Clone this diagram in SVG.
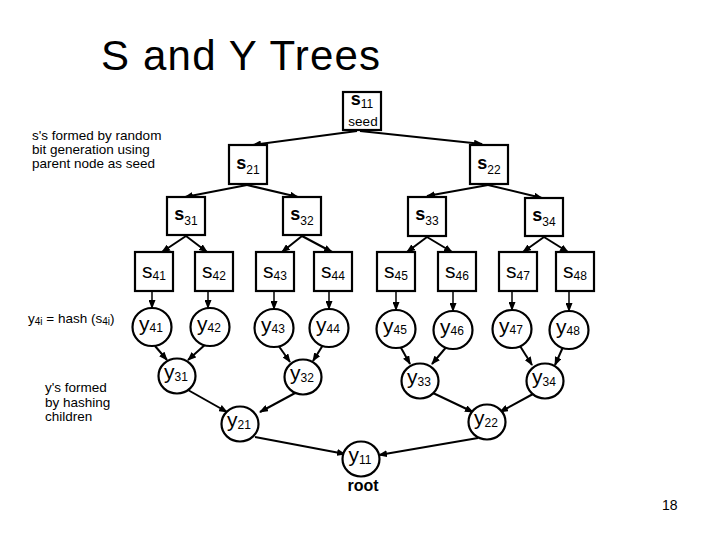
<svg xmlns="http://www.w3.org/2000/svg" width="720" height="540" viewBox="0 0 720 540">
<defs>
<marker id="ah" markerWidth="9" markerHeight="7" refX="8" refY="3.5" orient="auto" markerUnits="userSpaceOnUse">
<path d="M0,0 L9,3.5 L0,7 z" fill="#000"/>
</marker>
<style>
text{font-family:"Liberation Sans",Arial,sans-serif;fill:#000}
.box{fill:#fff;stroke:#000;stroke-width:2.2}
.circ{fill:#fff;stroke:#000;stroke-width:2.2}
.sb{font-weight:bold;font-size:18px}
.s4{font-size:21px}
.yl{font-size:21px}
.sub{font-size:12px}
.note{font-size:13.5px}
.con line{stroke:#000;stroke-width:2;marker-end:url(#ah)}
.con line.v{stroke-width:1.5}
</style>
</defs>
<rect width="720" height="540" fill="#fff"/>
<text x="101" y="70" font-size="42" textLength="279" lengthAdjust="spacing">S and Y Trees</text>
<g id="notes">
<text class="note" x="32" y="140">s's formed by random</text>
<text class="note" x="32" y="154">bit generation using</text>
<text class="note" x="32" y="168">parent node as seed</text>
<text class="note" x="28" y="323" font-size="14">y<tspan font-size="10" dy="2">4i</tspan><tspan dy="-2"> = hash (s</tspan><tspan font-size="10" dy="2">4i</tspan><tspan dy="-2">)</tspan></text>
<text class="note" x="45" y="392">y's formed</text>
<text class="note" x="45" y="407">by hashing</text>
<text class="note" x="45" y="421">children</text>
<text x="662" y="510" font-size="14">18</text>
</g>
<g class="con" id="connectors">
<line x1="357" y1="131" x2="253" y2="145"/>
<line x1="360" y1="131" x2="482" y2="144"/>
<line x1="247" y1="185" x2="185" y2="197"/>
<line x1="247" y1="185" x2="298" y2="197"/>
<line x1="488" y1="185" x2="427" y2="196"/>
<line x1="488" y1="185" x2="542" y2="198"/>
<line x1="186" y1="236" x2="162" y2="252"/>
<line x1="186" y1="236" x2="207" y2="252"/>
<line x1="302" y1="236" x2="282" y2="252"/>
<line x1="302" y1="236" x2="332" y2="252"/>
<line x1="427" y1="237" x2="407" y2="252"/>
<line x1="427" y1="237" x2="452" y2="252"/>
<line x1="544" y1="237" x2="523" y2="252"/>
<line x1="544" y1="237" x2="568" y2="252"/>
<line class="v" x1="152" y1="291" x2="152" y2="308"/>
<line class="v" x1="208" y1="291" x2="208" y2="308"/>
<line class="v" x1="274" y1="291" x2="274" y2="309"/>
<line class="v" x1="329" y1="291" x2="329" y2="309"/>
<line class="v" x1="396" y1="291" x2="396" y2="310"/>
<line class="v" x1="453" y1="291" x2="453" y2="311"/>
<line class="v" x1="512" y1="291" x2="512" y2="310"/>
<line class="v" x1="569" y1="291" x2="569" y2="311"/>
<line x1="155" y1="346" x2="167" y2="360"/>
<line x1="207" y1="343" x2="188" y2="360"/>
<line x1="278" y1="345" x2="290" y2="362"/>
<line x1="323" y1="345" x2="313" y2="361"/>
<line x1="400" y1="346" x2="410" y2="364"/>
<line x1="448" y1="345" x2="432" y2="364"/>
<line x1="520" y1="346" x2="532" y2="365"/>
<line x1="563" y1="347" x2="555" y2="365"/>
<line x1="188" y1="390" x2="227" y2="412"/>
<line x1="297" y1="392" x2="260" y2="412"/>
<line x1="433" y1="393" x2="473" y2="412"/>
<line x1="533" y1="394" x2="500" y2="412"/>
<line x1="255" y1="437" x2="345" y2="454"/>
<line x1="478" y1="438" x2="379" y2="455"/>
</g>
<g id="s11"><rect class="box" x="343" y="92" width="38" height="38"/><text class="sb" x="362" y="105" text-anchor="middle">s<tspan class="sub" font-weight="normal" dy="3">11</tspan></text><text x="363" y="126" font-size="13.5" text-anchor="middle">seed</text></g>
<g id="s21"><rect class="box" x="229" y="145" width="38" height="39"/><text class="sb" x="248" y="169" text-anchor="middle">s<tspan class="sub" font-weight="normal" dy="5">21</tspan></text></g>
<g id="s22"><rect class="box" x="470" y="145" width="38" height="39"/><text class="sb" x="489" y="169" text-anchor="middle">s<tspan class="sub" font-weight="normal" dy="5">22</tspan></text></g>
<g id="s31"><rect class="box" x="167" y="197" width="38" height="38"/><text class="sb" x="186" y="220" text-anchor="middle">s<tspan class="sub" font-weight="normal" dy="5">31</tspan></text></g>
<g id="s32"><rect class="box" x="283" y="197" width="38" height="38"/><text class="sb" x="302" y="220" text-anchor="middle">s<tspan class="sub" font-weight="normal" dy="5">32</tspan></text></g>
<g id="s33"><rect class="box" x="408" y="197" width="38" height="39"/><text class="sb" x="427" y="220" text-anchor="middle">s<tspan class="sub" font-weight="normal" dy="5">33</tspan></text></g>
<g id="s34"><rect class="box" x="525" y="198" width="38" height="38"/><text class="sb" x="544" y="221" text-anchor="middle">s<tspan class="sub" font-weight="normal" dy="5">34</tspan></text></g>
<g id="s41"><rect class="box" x="135" y="252" width="38" height="39"/><text class="s4" x="154" y="278" text-anchor="middle">s<tspan class="sub" dy="2">41</tspan></text></g>
<g id="s42"><rect class="box" x="195" y="252" width="38" height="39"/><text class="s4" x="214" y="278" text-anchor="middle">s<tspan class="sub" dy="2">42</tspan></text></g>
<g id="s43"><rect class="box" x="256" y="252" width="38" height="39"/><text class="s4" x="275" y="278" text-anchor="middle">s<tspan class="sub" dy="2">43</tspan></text></g>
<g id="s44"><rect class="box" x="314" y="252" width="38" height="39"/><text class="s4" x="333" y="278" text-anchor="middle">s<tspan class="sub" dy="2">44</tspan></text></g>
<g id="s45"><rect class="box" x="377" y="252" width="38" height="39"/><text class="s4" x="396" y="278" text-anchor="middle">s<tspan class="sub" dy="2">45</tspan></text></g>
<g id="s46"><rect class="box" x="438" y="252" width="38" height="39"/><text class="s4" x="457" y="278" text-anchor="middle">s<tspan class="sub" dy="2">46</tspan></text></g>
<g id="s47"><rect class="box" x="499" y="252" width="38" height="39"/><text class="s4" x="518" y="278" text-anchor="middle">s<tspan class="sub" dy="2">47</tspan></text></g>
<g id="s48"><rect class="box" x="556" y="252" width="38" height="39"/><text class="s4" x="575" y="278" text-anchor="middle">s<tspan class="sub" dy="2">48</tspan></text></g>
<g id="y41"><ellipse class="circ" cx="152" cy="327" rx="19.5" ry="19"/><text class="yl" x="151" y="331" text-anchor="middle">y<tspan class="sub" dy="1">41</tspan></text></g>
<g id="y42"><ellipse class="circ" cx="210" cy="327" rx="19.5" ry="19"/><text class="yl" x="209" y="331" text-anchor="middle">y<tspan class="sub" dy="1">42</tspan></text></g>
<g id="y43"><ellipse class="circ" cx="274" cy="328" rx="19.5" ry="19"/><text class="yl" x="273" y="332" text-anchor="middle">y<tspan class="sub" dy="1">43</tspan></text></g>
<g id="y44"><ellipse class="circ" cx="329" cy="328" rx="19.5" ry="19"/><text class="yl" x="328" y="332" text-anchor="middle">y<tspan class="sub" dy="1">44</tspan></text></g>
<g id="y45"><ellipse class="circ" cx="396" cy="329" rx="19.5" ry="19"/><text class="yl" x="395" y="333" text-anchor="middle">y<tspan class="sub" dy="1">45</tspan></text></g>
<g id="y46"><ellipse class="circ" cx="453" cy="330" rx="19.5" ry="19"/><text class="yl" x="452" y="334" text-anchor="middle">y<tspan class="sub" dy="1">46</tspan></text></g>
<g id="y47"><ellipse class="circ" cx="512" cy="329" rx="19.5" ry="19"/><text class="yl" x="511" y="333" text-anchor="middle">y<tspan class="sub" dy="1">47</tspan></text></g>
<g id="y48"><ellipse class="circ" cx="569" cy="330" rx="19.5" ry="19"/><text class="yl" x="568" y="334" text-anchor="middle">y<tspan class="sub" dy="1">48</tspan></text></g>
<g id="y31"><ellipse class="circ" cx="177" cy="376" rx="18.5" ry="17.5"/><text class="yl" x="176" y="379" text-anchor="middle">y<tspan class="sub" dy="2">31</tspan></text></g>
<g id="y32"><ellipse class="circ" cx="303" cy="377" rx="18.5" ry="17.5"/><text class="yl" x="302" y="380" text-anchor="middle">y<tspan class="sub" dy="2">32</tspan></text></g>
<g id="y33"><ellipse class="circ" cx="420" cy="381" rx="18.5" ry="17.5"/><text class="yl" x="419" y="384" text-anchor="middle">y<tspan class="sub" dy="2">33</tspan></text></g>
<g id="y34"><ellipse class="circ" cx="545" cy="381" rx="18.5" ry="17.5"/><text class="yl" x="544" y="384" text-anchor="middle">y<tspan class="sub" dy="2">34</tspan></text></g>
<g id="y21"><ellipse class="circ" cx="240" cy="424" rx="18.5" ry="17.5"/><text class="yl" x="239" y="427" text-anchor="middle">y<tspan class="sub" dy="2">21</tspan></text></g>
<g id="y22"><ellipse class="circ" cx="487" cy="422" rx="18.5" ry="17.5"/><text class="yl" x="486" y="425" text-anchor="middle">y<tspan class="sub" dy="2">22</tspan></text></g>
<g id="y11"><ellipse class="circ" cx="361" cy="459" rx="18.5" ry="17.5"/><text class="yl" x="360" y="462" text-anchor="middle">y<tspan class="sub" dy="2">11</tspan></text><text x="363" y="491" font-size="16" font-weight="bold" text-anchor="middle">root</text></g>
</svg>
